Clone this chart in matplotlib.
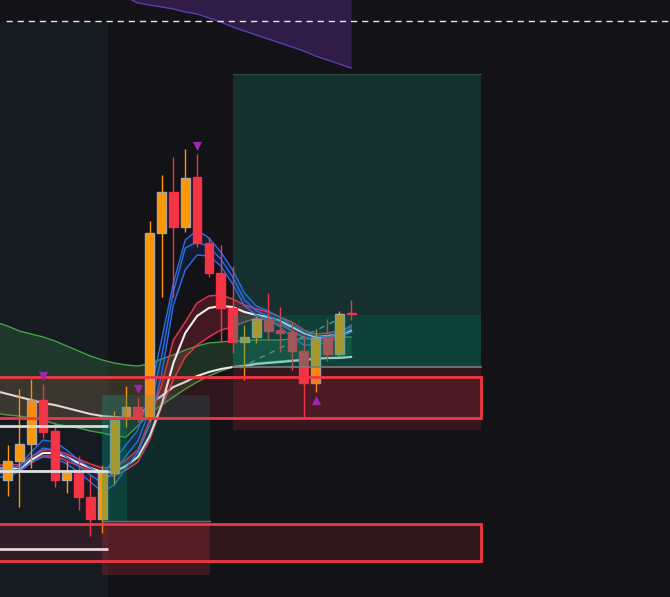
import numpy as np
import matplotlib.pyplot as plt
from matplotlib.patches import Rectangle

# candles (price units, bar index 0..29)
bars = np.arange(30)
opens  = [117, 136, 153, 197, 166, 117, 124, 100, 78, 124, 179, 190, 179, 364, 405,
          370, 420, 354, 324, 289, 255, 260, 278, 267, 265, 246, 214, 259, 243, 283]
highs  = [152, 208, 218, 213, 175, 136, 141, 122, 132, 186, 211, 200, 376, 422, 440,
          448, 443, 360, 352, 331, 272, 281, 304, 290, 275, 260, 268, 278, 286, 297]
lows   = [101, 90, 129, 159, 110, 104, 87, 61, 64, 113, 170, 175, 176, 300, 300,
          365, 350, 320, 255, 244, 217, 254, 257, 245, 227, 179, 205, 236, 240, 277]
closes = [136, 153, 197, 165, 117, 124, 100, 78, 125, 177, 190, 179, 364, 405, 370,
          419, 354, 324, 289, 255, 260, 278, 266, 264, 246, 214, 259, 243, 283, 282]

# moving average ribbons, sampled at bars -1..29
ma_bars = np.arange(-1, 30)
blue_hi  = [127, 129, 131, 145, 157, 155, 147, 137, 129, 123, 137, 152, 167, 202, 257, 314,
            357, 367, 359, 345, 327, 304, 291, 286, 280, 272, 265, 261, 260, 264, 272]
blue_mid = [123, 125, 128, 140, 149, 147, 140, 131, 122, 114, 125, 141, 156, 187, 240, 305,
            349, 355, 350, 338, 320, 297, 286, 281, 275, 266, 259, 257, 257, 261, 268]
blue_lo  = [119, 121, 125, 135, 140, 139, 133, 125, 115, 105, 112, 129, 145, 172, 222, 292,
            327, 342, 341, 331, 313, 291, 282, 277, 270, 260, 252, 252, 255, 259, 265]
red_hi   = [131, 133, 132, 140, 147, 147, 143, 138, 133, 129, 130, 137, 147, 177, 212, 257,
            275, 294, 301, 302, 298, 292, 288, 285, 280, 275, 267, 263, 264, 266, 270]
red_lo   = [126, 127, 126, 134, 141, 141, 136, 131, 126, 122, 121, 127, 135, 157, 190, 217,
            240, 252, 260, 267, 270, 275, 279, 277, 272, 266, 260, 258, 259, 261, 265]
white_fast = [128, 129, 128, 137, 144, 144, 140, 134, 129, 125, 125, 131, 140, 161, 192, 234,
              264, 281, 289, 291, 290, 285, 282, 280, 276, 270, 264, 260, 261, 263, 266]
green_hi = [275, 271, 266, 263, 260, 256, 251, 246, 241, 237, 234, 232, 231, 233, 238, 242,
            247, 251, 254, 255, 256, 256, 257, 257, 257, 258, 258, 259, 259, 260, 260]
green_lo = [184, 182, 181, 179, 177, 173, 171, 169, 166, 164, 161, 160, 171, 184, 192, 200,
            208, 215, 221, 226, 230, 232, 234, 235, 236, 237, 238, 239, 239, 240, 240]
white_slow = [206, 203, 200, 197, 194, 192, 189, 186, 183, 181, 180, 179, 179, 193, 201, 210,
              215, 221, 225, 228, 230, 231, 233, 234, 235, 236, 237, 238, 239, 239, 240]

# purple cloud at the top (bars 10..29)
cloud_bars = np.arange(10, 30)
cloud_vals = [600, 594, 592, 590, 588, 585, 583, 579, 575, 570, 566, 562, 558, 554, 550,
              546, 541, 537, 533, 529]

# levels
dash_level = 576
left_levels = [171, 126, 48]
signal_down = ([3, 11, 16], [221, 208, 451])
signal_up = ([26], [197])
trend = ([19.6, 29.0], [229, 284])

BG = '#131217'
ORANGE = '#ff9800'
RED = '#f23645'

fig = plt.figure(figsize=(6.7, 5.97), dpi=100, facecolor=BG)
ax = fig.add_axes([0, 0, 1, 1], facecolor=BG)
ax.set_xlim(-0.633, 55.91)
ax.set_ylim(0, 597)
ax.axis('off')

# background zones
ax.add_patch(Rectangle((-1, 0), 9.5, 575, color='#161b22', lw=0, zorder=0))
ax.add_patch(Rectangle((19, 282), 21, 241, color='#15302f', lw=0, zorder=0))
ax.plot([19, 40], [523, 523], color='#1d4a44', lw=1, zorder=0.5)

ax.fill_between(cloud_bars, cloud_vals, 600, color='#2f1d47', lw=0, zorder=0.5)
ax.plot(cloud_bars, cloud_vals, color='#5e3bb0', lw=1, zorder=0.6)

ax.hlines(dash_level, -0.13, 56, colors='#e6e6e6', lw=1, linestyles=(0, (4.5, 3.5)), zorder=1)

# ribbons
ax.fill_between(ma_bars, green_hi, green_lo, color='#4caf50', alpha=0.2, lw=0, zorder=1)
ax.plot(ma_bars, green_hi, color='#43a047', lw=1, zorder=2)
ax.plot(ma_bars, green_lo, color='#43a047', lw=1, zorder=2)
ax.plot(ma_bars, white_slow, color='#e8e8e8', lw=1.5, zorder=2)

ax.fill_between(ma_bars, red_hi, red_lo, color=RED, alpha=0.22, lw=0, zorder=1)
ax.plot(ma_bars, red_hi, color='#e0354a', lw=1.1, zorder=2)
ax.plot(ma_bars, red_lo, color='#e0354a', lw=1.1, zorder=2)
ax.plot(ma_bars, white_fast, color='#eeeeee', lw=1.5, zorder=2)

ax.fill_between(ma_bars, blue_hi, blue_lo, color='#2962ff', alpha=0.12, lw=0, zorder=1)
for line in (blue_hi, blue_mid, blue_lo):
    ax.plot(ma_bars, line, color='#2a6fe8', lw=1, zorder=2)

ax.plot(trend[0], trend[1], color='#8a8a8a', lw=1, ls=(0, (4, 4)), zorder=2)

# candles
o = np.array(opens)
c = np.array(closes)
up = c >= o
colors = np.where(up, ORANGE, RED)
edges = np.where(up, '#a8a8a8', '#ff2a45')
ax.vlines(bars, lows, highs, colors=colors, lw=1, zorder=3)
body = np.where(np.abs(c - o) < 1.5, 1.5, c - o)
ax.bar(bars, body, bottom=o, width=0.74, color=colors, edgecolor=edges, lw=1, zorder=4)

# overlay zones on top of candles
ax.add_patch(Rectangle((19, 230), 21, 52, color='#089981', alpha=0.35, lw=0, zorder=5))
ax.add_patch(Rectangle((19, 167), 21, 63, color=RED, alpha=0.16, lw=0, zorder=5))
ax.plot([19, 40], [230, 230], color='#7a7a7a', lw=1.2, zorder=5)

ax.add_patch(Rectangle((8, 75), 9.1, 127, color='#089981', alpha=0.18, lw=0, zorder=5))
ax.add_patch(Rectangle((8, 75), 2.1, 127, color='#089981', alpha=0.22, lw=0, zorder=5))
ax.plot([8, 17.1], [76, 76], color='#707070', lw=1, zorder=5)
ax.add_patch(Rectangle((8, 22), 9.1, 53, color=RED, alpha=0.2, lw=0, zorder=5))

for low, high in [(179, 220), (36, 73)]:
    ax.add_patch(Rectangle((-1, low), 41, high - low, facecolor=RED, alpha=0.12, lw=0, zorder=5))
    ax.add_patch(Rectangle((-1, low), 41, high - low, fill=False, edgecolor=RED, lw=2, zorder=6))

ax.hlines(left_levels, -1, 8.48, colors=['#d8d8d8', '#e0e0e0', '#e8d4d4'], lw=2, zorder=6)

ax.scatter(signal_down[0], signal_down[1], marker='v', s=45, color='#9c27b0', lw=0, zorder=7)
ax.scatter(signal_up[0], signal_up[1], marker='^', s=45, color='#9c27b0', lw=0, zorder=7)

fig.savefig('out.png', dpi=100, facecolor=BG)
